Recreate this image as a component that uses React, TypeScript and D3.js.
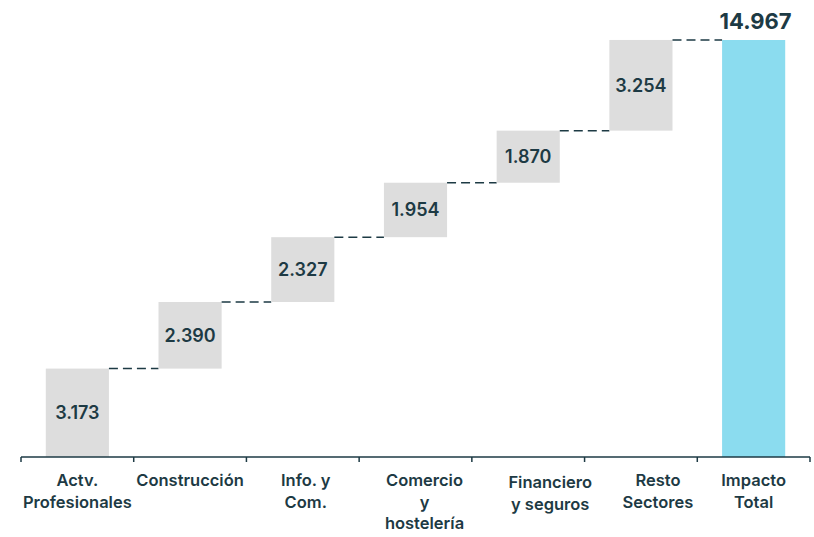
import React from "react";
import * as d3 from "d3";

const categories: string[][] = [
  ["Actv.", "Profesionales"],
  ["Construcción"],
  ["Info. y", "Com."],
  ["Comercio", "y", "hostelería"],
  ["Financiero", "y seguros"],
  ["Resto", "Sectores"],
  ["Impacto", "Total"],
];
const values: number[] = [3173, 2390, 2327, 1954, 1870, 3254];
const totalValue = 14967;

// layout nudges of the category labels (px), as placed in the original
const labelDx: number[] = [0, 0, 3, 9, 22, 17, 0];
const labelDy: number[] = [0, 0, 0, 0, 2, 0, 0];

const W = 814;
const H = 537;
const TEXT = "#1d3a44";
const GREY = "#dddddd";
const BLUE = "#8bdcef";
const FONT = "Inter, 'Open Sans', sans-serif";

const locale = d3.formatLocale({ decimal: ",", thousands: ".", grouping: [3], currency: ["", "€"] });
const fmt = locale.format(",d");

export default function App() {
  const x = d3
    .scaleBand<number>()
    .domain(d3.range(categories.length))
    .range([21, 810])
    .paddingInner(0.44)
    .paddingOuter(0.22);
  const y = d3.scaleLinear().domain([0, totalValue]).range([457, 40]);

  const cum: number[] = [];
  let s = 0;
  values.forEach((v) => {
    cum.push(s);
    s += v;
  });
  const bandStart = (i: number) => 21 + (810 - 21) * (i / categories.length);

  return (
    <svg width={W} height={H} style={{ position: "absolute", left: 0, top: 0 }} fontFamily={FONT}>
      <rect width={W} height={H} fill="#fff" />
      {values.map((v, i) => {
        const x0 = x(i)!;
        const y0 = y(cum[i] + v);
        const y1 = y(cum[i]);
        return (
          <g key={i}>
            <rect x={x0} y={y0} width={x.bandwidth()} height={y1 - y0} fill={GREY} />
            <text
              x={x0 + x.bandwidth() / 2}
              y={(y0 + y1) / 2}
              dy="0.36em"
              textAnchor="middle"
              fontSize={18}
              fontWeight={600}
              fill={TEXT}
            >
              {fmt(v)}
            </text>
            <line
              x1={x0 + x.bandwidth()}
              x2={x(i + 1)!}
              y1={y0}
              y2={y0}
              stroke={TEXT}
              strokeWidth={1.5}
              strokeDasharray="9,5"
            />
          </g>
        );
      })}
      {(() => {
        const i = values.length;
        const x0 = x(i)!;
        return (
          <g>
            <rect x={x0} y={y(totalValue)} width={x.bandwidth()} height={y(0) - y(totalValue)} fill={BLUE} />
            <text
              x={x0 + x.bandwidth() / 2 + 2}
              y={y(totalValue) - 11}
              textAnchor="middle"
              fontSize={22}
              fontWeight={700}
              fill={TEXT}
            >
              {fmt(totalValue)}
            </text>
          </g>
        );
      })()}
      <line x1={21} x2={810} y1={457} y2={457} stroke={TEXT} strokeWidth={1.5} />
      {d3.range(categories.length + 1).map((i) => (
        <line key={i} x1={bandStart(i)} x2={bandStart(i)} y1={457} y2={462} stroke={TEXT} strokeWidth={1.5} />
      ))}
      {categories.map((lines, i) => {
        const cx = x(i)! + x.bandwidth() / 2 + labelDx[i];
        return (
          <text
            key={i}
            x={cx}
            y={486 + labelDy[i]}
            textAnchor="middle"
            fontSize={16.5}
            fontWeight={600}
            fill={TEXT}
          >
            {lines.map((l, j) => (
              <tspan key={j} x={cx} dy={j === 0 ? 0 : 21.5}>
                {l}
              </tspan>
            ))}
          </text>
        );
      })}
    </svg>
  );
}
